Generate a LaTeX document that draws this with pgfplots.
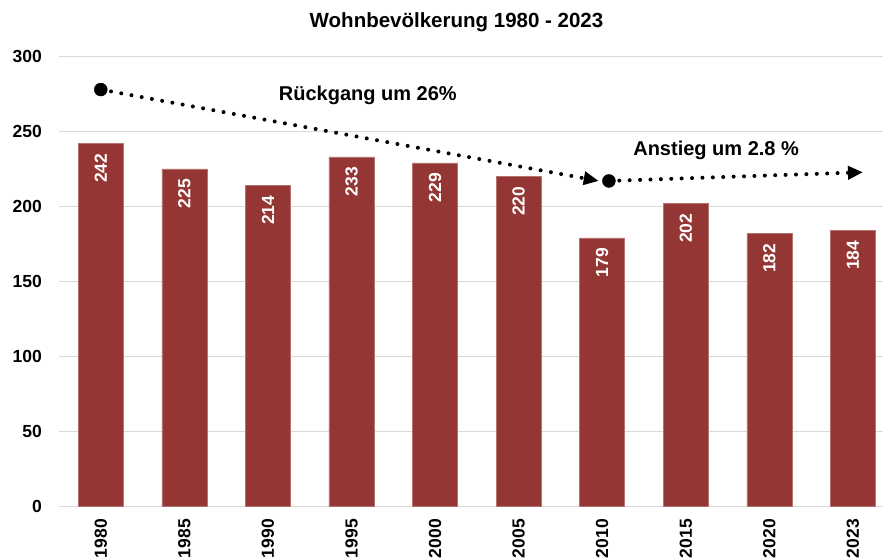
\documentclass[border=0pt]{standalone}
\usepackage{fontspec}
\setmainfont{Liberation Sans}
\usepackage{pgfplots}
\pgfplotsset{compat=1.18}
\usetikzlibrary{arrows.meta}
\definecolor{barred}{HTML}{943634}
\definecolor{gridgray}{HTML}{D9D9D9}
\begin{document}
\begin{tikzpicture}
\begin{axis}[
  scale only axis, width=824pt, height=449.4pt,
  xmin=-0.5, xmax=9.36, ymin=0, ymax=300,
  axis line style={draw=none},
  ytick={0,50,...,300},
  ymajorgrids, grid style={gridgray, line width=1pt},
  major tick length=0pt,
  xtick={0,...,9},
  xticklabels={1980,1985,1990,1995,2000,2005,2010,2015,2020,2023},
  x tick label style={rotate=90, anchor=east, inner xsep=13pt, font=\fontsize{17.5}{20}\selectfont\bfseries},
  y tick label style={anchor=east, inner xsep=0pt, xshift=-17pt, font=\fontsize{17.5}{20}\selectfont\bfseries},
  /pgf/number format/assume math mode=true,
  clip=false,
]
\addplot[ybar, bar shift=0pt, bar width=45pt, fill=barred, draw=barred!70!white, line width=0.5pt,
  nodes near coords,
  nodes near coords style={rotate=90, anchor=east, text=white, inner xsep=10pt,
    font=\fontsize{17.5}{20}\selectfont\bfseries}]
  coordinates {(0,242) (1,225) (2,214) (3,233) (4,229) (5,220) (6,179) (7,202) (8,182) (9,184)};
\addplot[sharp plot, no marks, line width=4pt, line cap=round, dash pattern=on 0pt off 10.4pt,
  -{Triangle[length=15pt,width=13pt]}]
  coordinates {(0,278) (5.958,217)};
\addplot[sharp plot, no marks, line width=4pt, line cap=round, dash pattern=on 0pt off 10.4pt,
  -{Triangle[length=15pt,width=13pt]}]
  coordinates {(6.08,217) (9.12,222.8)};
\addplot[only marks, mark=*, mark size=6.5pt, black] coordinates {(0,278) (6.08,217)};
\node[anchor=base, font=\fontsize{20}{24}\selectfont\bfseries] at (axis cs:3.195,271) {Rückgang um 26\%};
\node[anchor=base, font=\fontsize{20}{24}\selectfont\bfseries] at (axis cs:7.363,234.3) {Anstieg um 2.8 \%};
\node[anchor=base, yshift=28.6pt, font=\fontsize{20.5}{24}\selectfont\bfseries] at (rel axis cs:0.4824,1) {Wohnbevölkerung 1980 - 2023};
\coordinate (sw) at (rel axis cs:0,0);
\coordinate (ne) at (rel axis cs:1,1);
\end{axis}
\pgfresetboundingbox
\path ([shift={(-59pt,-53pt)}]sw) rectangle ([shift={(0pt,56.6pt)}]ne);
\end{tikzpicture}
\end{document}
